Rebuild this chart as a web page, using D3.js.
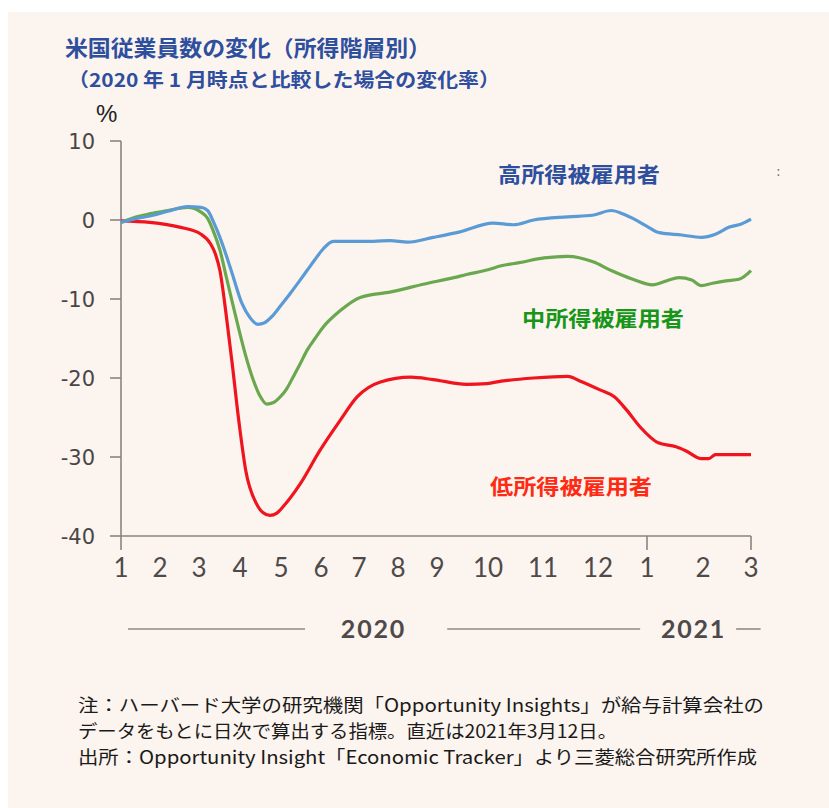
<!DOCTYPE html>
<html><head><meta charset="utf-8">
<script src="https://cdn.jsdelivr.net/npm/d3@7"></script>
<style>html,body{margin:0;padding:0;background:#fff;}svg{display:block;}</style>
</head><body>
<script>
// ---- data ----
const monthLabels = ["1","2","3","4","5","6","7","8","9","10","11","12","1","2","3"];
const yTicks = [10, 0, -10, -20, -30, -40];
const yearLabels = ["2020", "2021"];
// x in month-index units (0 = Jan 2020 ... 14 = Mar 2021)
const highX = [0,0.4,0.74,1.2,1.71,2.05,2.21,2.35,2.51,2.66,2.81,3.05,3.25,3.43,3.6,3.8,4.0,4.23,4.45,4.65,4.85,5.05,5.32,5.8,6.37,6.8,7.25,7.9,8.45,9.09,9.46,9.83,10.45,10.9,11.27,11.5,11.71,12.0,12.22,12.62,12.97,13.26,13.55,13.8,14];
const highV = [-0.3,0.2,0.5,1.1,1.7,1.6,1.2,-0.2,-2.2,-4.4,-6.8,-10.6,-12.4,-13.2,-13.0,-12.1,-10.8,-9.3,-7.8,-6.4,-5.0,-3.7,-2.7,-2.7,-2.7,-2.6,-2.8,-2.2,-1.5,-0.4,-0.6,0,0.4,0.6,1.2,0.8,0.2,-0.8,-1.6,-1.9,-2.2,-1.8,-0.9,-0.5,0.1];
const midX = [0,0.4,0.74,1.2,1.71,2.05,2.21,2.35,2.51,2.67,2.82,2.98,3.14,3.3,3.48,3.65,3.82,3.98,4.15,4.3,4.48,4.65,4.85,5.05,5.5,6.03,6.82,7.68,8.33,8.58,9.0,9.24,9.57,10.02,10.45,10.91,11.27,11.71,12.1,12.35,12.57,12.8,12.97,13.2,13.48,13.75,14];
const midV = [-0.3,0.4,0.8,1.2,1.6,1.0,0.2,-1.4,-3.8,-7.3,-10.6,-14,-17.2,-19.9,-22.2,-23.3,-23.1,-22.4,-21.3,-19.9,-18.2,-16.5,-15.0,-13.6,-11.5,-9.8,-9.1,-8.1,-7.3,-6.9,-6.3,-5.8,-5.4,-4.8,-4.6,-5.3,-6.4,-7.5,-8.2,-7.7,-7.3,-7.6,-8.3,-8.0,-7.7,-7.5,-6.4];
const lowX = [0,0.74,1.5,2.05,2.28,2.4,2.51,2.67,2.81,2.98,3.14,3.4,3.55,3.73,3.9,4.05,4.48,4.97,5.5,5.95,6.55,7.33,7.9,8.58,8.98,9.24,9.83,10.45,10.68,11.04,11.34,11.59,11.86,12.2,12.52,12.69,12.97,13.12,13.26,14];
const lowV = [-0.1,-0.3,-0.9,-1.8,-3.0,-4.3,-6.4,-12.3,-18.2,-25.8,-31.7,-35.9,-37.0,-37.4,-37.1,-36.3,-33.4,-29.2,-25.4,-22.4,-20.5,-19.9,-20.2,-20.8,-20.7,-20.4,-20.0,-19.8,-20.4,-21.5,-22.4,-24.1,-26.2,-28.2,-28.7,-29.2,-30.2,-30.2,-29.7,-29.7];
const seriesNames = ["高所得被雇用者", "中所得被雇用者", "低所得被雇用者"];
const titleText = "米国従業員数の変化（所得階層別）";
const subtitleText = "（2020 年 1 月時点と比較した場合の変化率）";
const noteLines = [
  "注：ハーバード大学の研究機関「Opportunity Insights」が給与計算会社の",
  "データをもとに日次で算出する指標。直近は2021年3月12日。",
  "出所：Opportunity Insight「Economic Tracker」より三菱総合研究所作成"
];

// ---- layout ----
const W = 829, H = 808;
const monthPos = [121,160,199,240,281,321,359,398,437,488,543,598,647,703,751];
const CJK = "'Noto Sans CJK JP', 'Noto Sans', sans-serif";

const svg = d3.select("body").append("svg").attr("width", W).attr("height", H);
svg.append("rect").attr("x", 8).attr("y", 12).attr("width", W - 8).attr("height", H - 12).attr("fill", "#fcf4ee");

const x = d3.scaleLinear().domain(d3.range(monthPos.length)).range(monthPos);
const y = d3.scaleLinear().domain([10, -40]).range([141, 536]);

// titles
svg.append("text").attr("x", 65).attr("y", 56).text(titleText)
  .attr("font-family", CJK).attr("font-weight", 700).attr("font-size", 22).attr("fill", "#2e4f9e")
  .attr("textLength", 366).attr("lengthAdjust", "spacingAndGlyphs");
svg.append("text").attr("x", 68).attr("y", 87).text(subtitleText)
  .attr("font-family", CJK).attr("font-weight", 700).attr("font-size", 19).attr("fill", "#2e4f9e")
  .attr("textLength", 432).attr("lengthAdjust", "spacingAndGlyphs");
svg.append("text").attr("x", 96).attr("y", 122).text("%")
  .attr("font-family", "'Liberation Sans', Arial, sans-serif").attr("font-size", 24).attr("fill", "#222");

// axes
const axisColor = "#8a8482";
svg.append("line").attr("x1", x(0)).attr("x2", x(0)).attr("y1", y(10)).attr("y2", y(-40) + 14)
  .attr("stroke", axisColor).attr("stroke-width", 1.6);
svg.append("line").attr("x1", x(0)).attr("x2", x(14)).attr("y1", y(-40)).attr("y2", y(-40))
  .attr("stroke", axisColor).attr("stroke-width", 1.6);
svg.selectAll(".yt").data(yTicks).join("line")
  .attr("x1", x(0) - 11).attr("x2", x(0)).attr("y1", d => y(d)).attr("y2", d => y(d))
  .attr("stroke", axisColor).attr("stroke-width", 1.6);
svg.selectAll(".yl").data(yTicks).join("text")
  .attr("x", 95).attr("y", d => y(d) + 8).attr("text-anchor", "end").text(d => d)
  .attr("font-family", "'DejaVu Sans', Verdana, sans-serif").attr("font-size", 21).attr("fill", "#4a4646");
svg.selectAll(".xt").data([12, 14]).join("line")
  .attr("x1", d => x(d)).attr("x2", d => x(d)).attr("y1", y(-40)).attr("y2", y(-40) + 14)
  .attr("stroke", axisColor).attr("stroke-width", 1.6);
svg.selectAll(".xl").data(monthLabels).join("text")
  .attr("x", (d, i) => x(i)).attr("y", 577).attr("text-anchor", "middle").text(d => d)
  .attr("font-family", "Lato, 'Open Sans', sans-serif").attr("font-size", 26).attr("fill", "#4e4a4a");

// year row
const yearY = 629;
[[0.18, 4.6], [8.2, 11.86], [13.69, 14.2]].forEach(s => {
  svg.append("line").attr("x1", x(s[0])).attr("x2", x(s[1])).attr("y1", yearY).attr("y2", yearY)
    .attr("stroke", "#8f8a88").attr("stroke-width", 1.6);
});
svg.selectAll(".yr").data(yearLabels).join("text")
  .attr("x", (d, i) => x([6.37, 12.83][i])).attr("y", yearY + 9).attr("text-anchor", "middle").text(d => d)
  .attr("font-family", "Lato, sans-serif").attr("font-weight", 700).attr("font-size", 25)
  .attr("letter-spacing", 1.8).attr("fill", "#4e4a4a");

// lines
const line = d3.line().x(d => x(d[0])).y(d => y(d[1])).curve(d3.curveMonotoneX);
const series = [
  {xs: highX, vs: highV, color: "#5b9bd5"},
  {xs: midX, vs: midV, color: "#6aa84f"},
  {xs: lowX, vs: lowV, color: "#f0141e"}
];
[series[2], series[1], series[0]].forEach(s => {
  svg.append("path").attr("d", line(s.xs.map((v, i) => [v, s.vs[i]])))
    .attr("fill", "none").attr("stroke", s.color).attr("stroke-width", 3.2).attr("stroke-linejoin", "round");
});

// series labels
const labelInfo = [
  {x: 498, y: 182, color: "#2e4f9e"},
  {x: 522, y: 326, color: "#18961a"},
  {x: 490, y: 494, color: "#ff2a14"}
];
seriesNames.forEach((n, i) => {
  svg.append("text").attr("x", labelInfo[i].x).attr("y", labelInfo[i].y).text(n)
    .attr("font-family", CJK).attr("font-weight", 700).attr("font-size", 21).attr("fill", labelInfo[i].color)
    .attr("textLength", 162).attr("lengthAdjust", "spacingAndGlyphs");
});
svg.append("text").attr("x", 776).attr("y", 176).text(":")
  .attr("font-family", "'DejaVu Sans', sans-serif").attr("font-size", 14).attr("fill", "#777");

// notes
const noteLen = [686, 539, 679];
noteLines.forEach((t, i) => {
  svg.append("text").attr("x", 78).attr("y", 712 + i * 26).text(t)
    .attr("font-family", CJK).attr("font-size", 18).attr("fill", "#1a1a1a")
    .attr("textLength", noteLen[i]).attr("lengthAdjust", "spacingAndGlyphs");
});
</script>
</body></html>
